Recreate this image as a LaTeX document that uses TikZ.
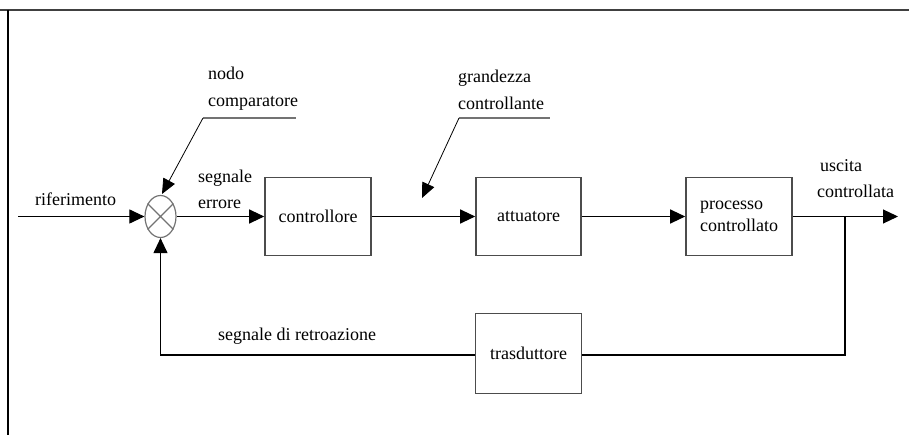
\documentclass[tikz,border=0pt]{standalone}
\usepackage{fontspec}
\setmainfont{Liberation Serif}
\usetikzlibrary{arrows.meta,shapes.geometric}
\begin{document}
\begin{tikzpicture}[x=1pt,y=-1pt,
  font=\fontsize{18}{26}\selectfont,
  blk/.style={draw=black!70, line width=1.6pt, inner sep=0pt, minimum width=106pt, minimum height=78pt, align=left},
  sig/.style={draw=black, line width=1.1pt},
  arr/.style={sig, -{Triangle[length=15pt,width=14pt]}},
  note/.style={draw=black, line width=0.8pt, -{Triangle[length=15pt,width=13pt]}},
  uline/.style={draw=black!55, line width=2pt},
  lbl/.style={anchor=base west, inner sep=0pt, align=left}]
\useasboundingbox (0,0) rectangle (909,435);
% frame
\draw[draw=black!75, line width=2pt] (0,10) -- (909,10);
\draw[draw=black, line width=1.5pt] (8,10) -- (8,435);

% blocks
\node[blk] (ctrl) at (318,216.5) {controllore};
\node[blk, minimum width=105pt] (att) at (528.5,216.5) {attuatore};
\node[blk] (proc) at (739,216.5) {processo\\[-4pt]controllato};
\node[blk, minimum width=106pt, minimum height=80pt] (tras) at (528.5,353.5) {trasduttore};
\node[draw=black!55, line width=1.2pt, ellipse, minimum width=31pt, minimum height=42pt, inner sep=0pt] (sum) at (160.5,216.5) {};
\draw[draw=black!55, line width=1.1pt] (sum.45) -- (sum.225) (sum.135) -- (sum.315);

% coordinates
\coordinate (in) at (18,216.5);
\coordinate (out) at (898,216.5);
\coordinate (br) at (845,216.5);
\coordinate (brd) at (845,355);
\coordinate (fbc) at (160.5,355);

% signals
\draw[arr] (in) -- (sum.west);
\draw[arr] (sum.east) -- (ctrl.west);
\draw[arr] (ctrl.east) -- (att.west);
\draw[arr] (att.east) -- (proc.west);
\draw[arr] (proc.east) -- (out);
\draw[sig] (br) -- (brd) -- (tras.east |- brd);
\draw[arr] (tras.west |- fbc) -- (fbc) -- (sum.south);

% labels
\node[lbl] (tRif) at (35,206) {riferimento};
\node[lbl] (tSeg) at (198,183) {segnale};
\node[lbl] (tErr) at (198,209) {errore};
\node[lbl] (tUsc) at (820,172) {uscita};
\node[lbl] (tCtl) at (817,198) {controllata};
\node[lbl] (tRet) at (218,340) {segnale di retroazione};

% annotation: nodo comparatore
\node[lbl] (tNodo) at (208,80) {nodo};
\node[lbl] (tComp) at (208,107) {comparatore};
\coordinate (u1a) at (203,118);
\coordinate (u1b) at (296,118);
\coordinate (t1) at (162,194);
\draw[uline] (u1a) -- (u1b);
\draw[note] (u1a) -- (t1);

% annotation: grandezza controllante
\node[lbl] (tGr) at (458,83) {grandezza};
\node[lbl] (tCo) at (458,110) {controllante};
\coordinate (u2a) at (459,118);
\coordinate (u2b) at (550,118);
\coordinate (t2) at (422,198);
\draw[uline] (u2a) -- (u2b);
\draw[note] (u2a) -- (t2);
\end{tikzpicture}
\end{document}
